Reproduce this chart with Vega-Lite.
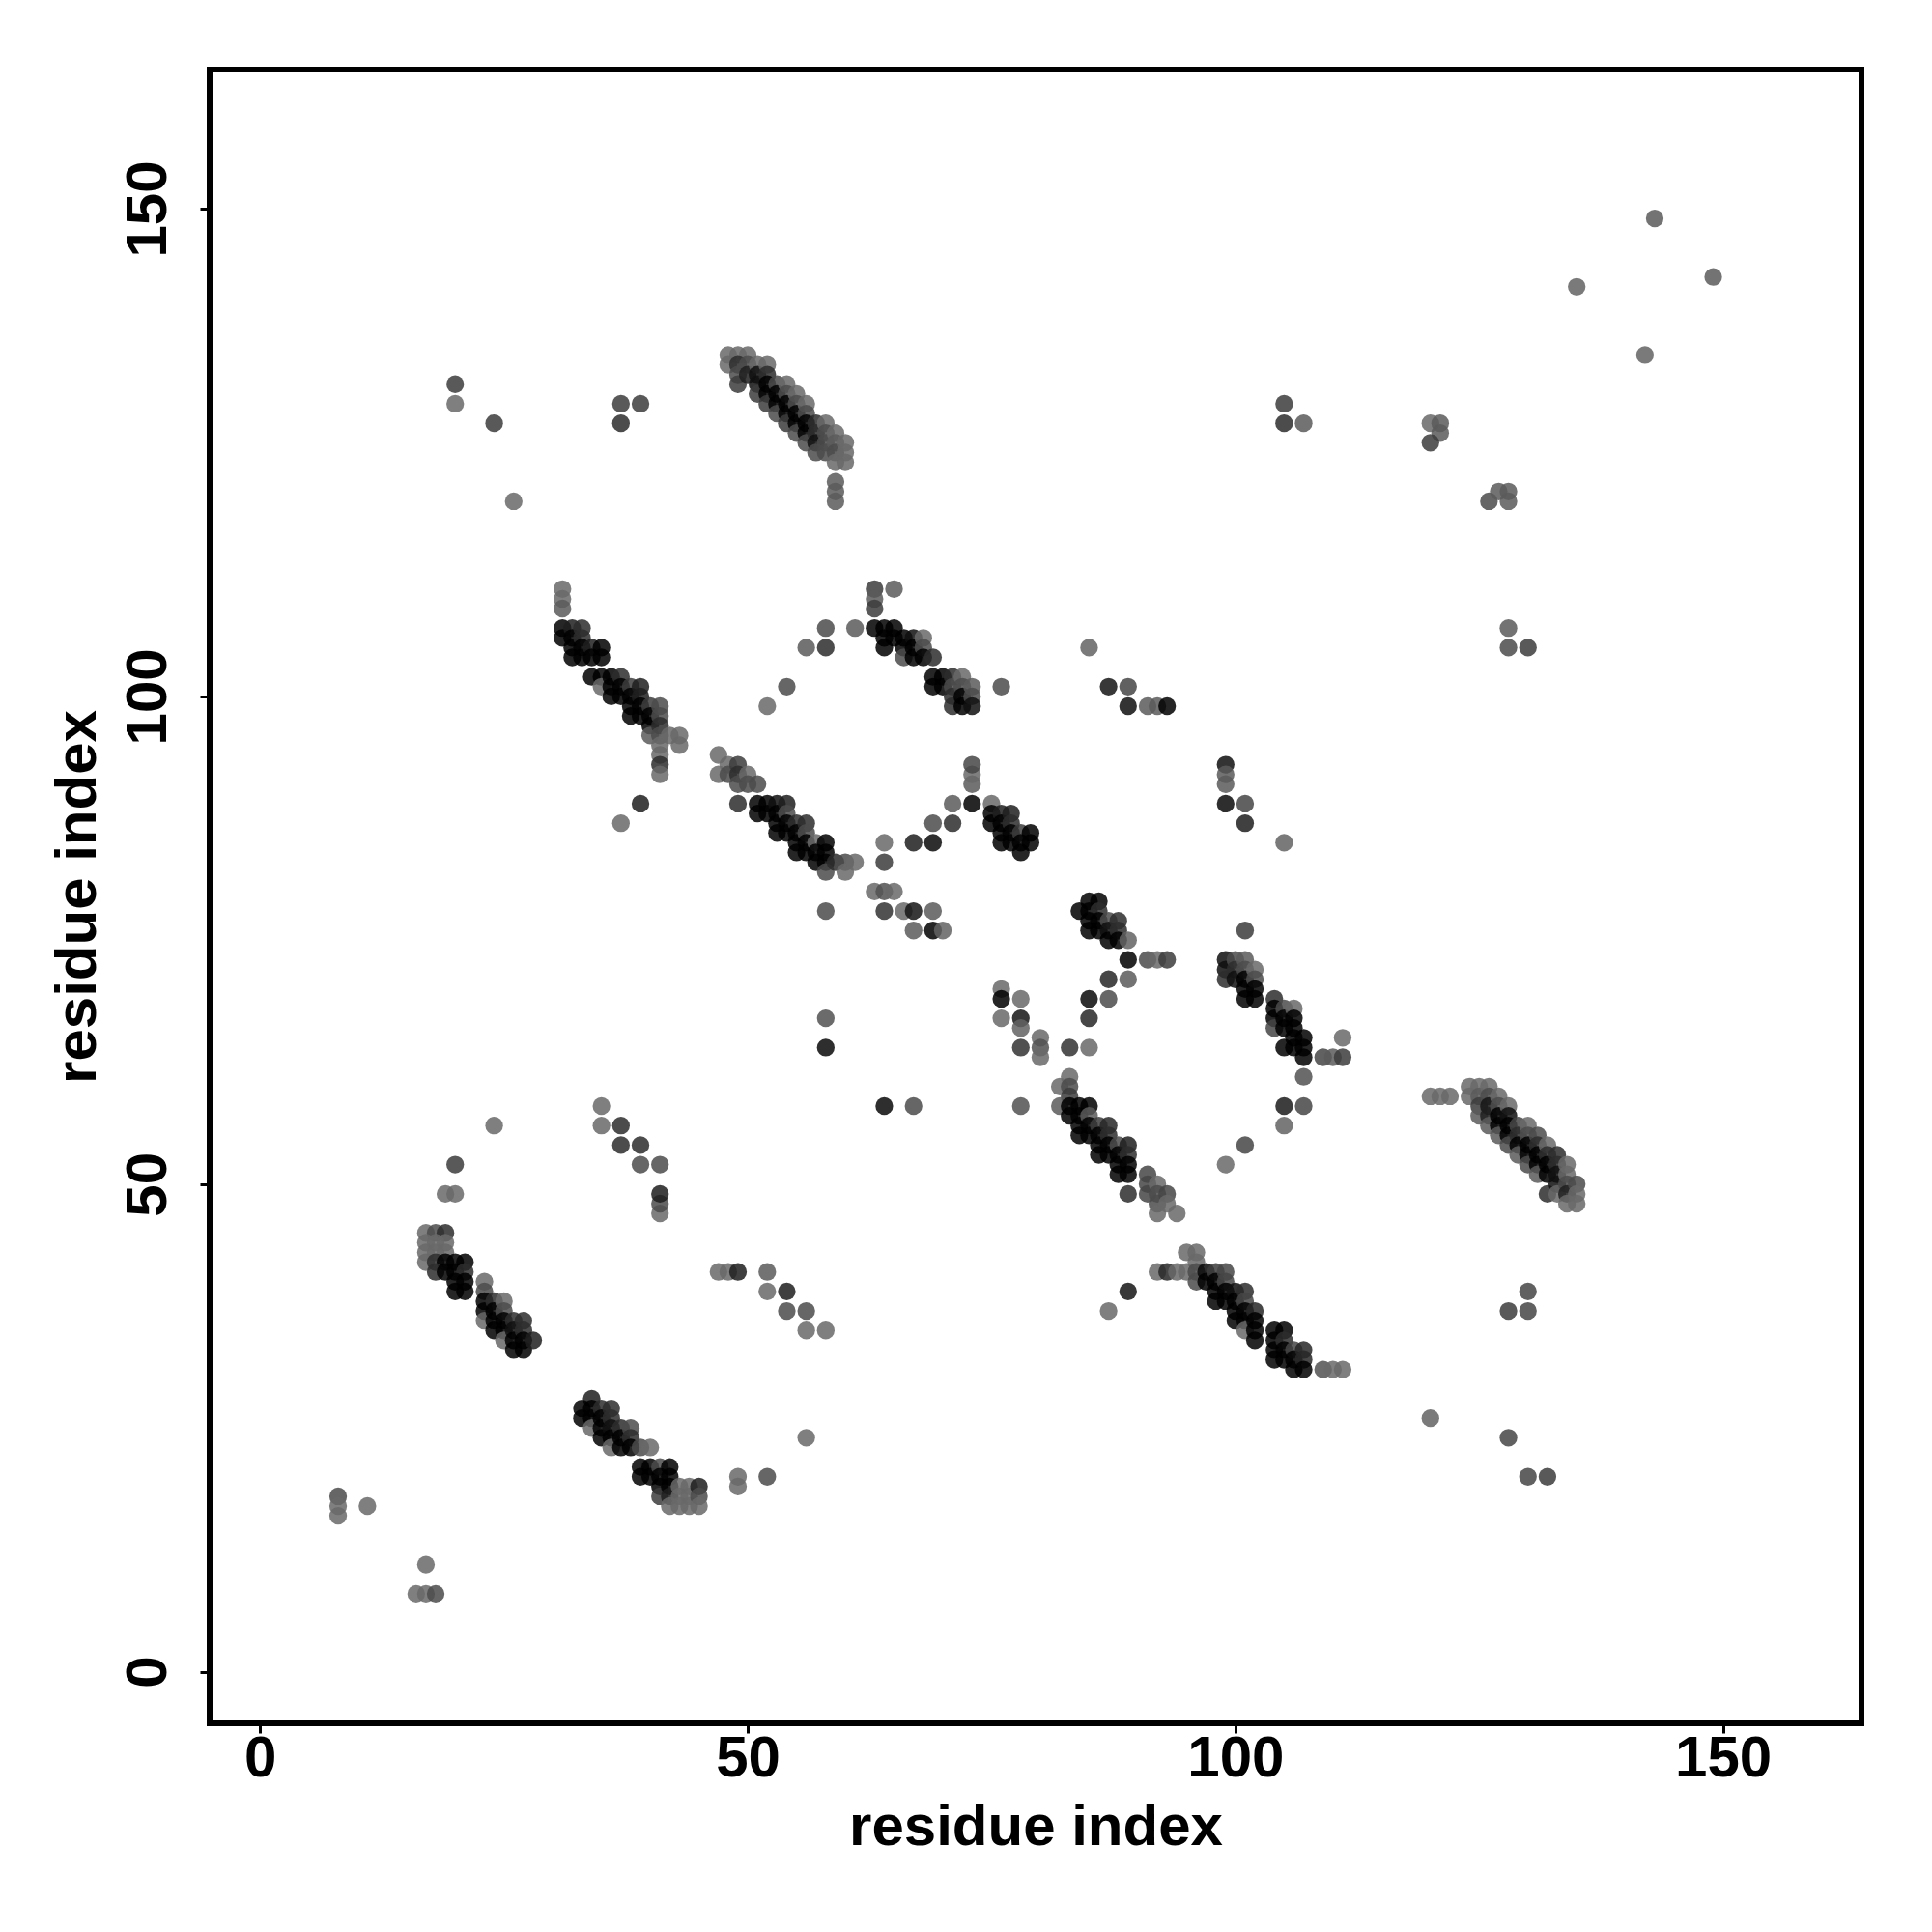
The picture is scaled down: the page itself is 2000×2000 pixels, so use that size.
{"$schema":"https://vega.github.io/schema/vega-lite/v6.json","width":1710,"height":1712,"autosize":{"type":"none"},"padding":{"left":217,"top":72,"right":73,"bottom":216},"background":"white","view":{"stroke":"black","strokeWidth":6,"fill":"white"},"data":{"values":[
{"x":17,"y":11,"s":0.5},{"x":16,"y":8,"s":0.5},{"x":17,"y":8,"s":0.5},{"x":18,"y":8,"s":0.6},{"x":8,"y":18,"s":0.6},{"x":8,"y":17,"s":0.5},{"x":8,"y":16,"s":0.5},{"x":11,"y":17,"s":0.5},
{"x":17,"y":45,"s":0.5},{"x":18,"y":45,"s":0.6},{"x":19,"y":45,"s":0.7},{"x":17,"y":44,"s":0.5},{"x":18,"y":44,"s":0.5},{"x":19,"y":44,"s":0.5},{"x":17,"y":43,"s":0.5},{"x":18,"y":43,"s":0.5},{"x":19,"y":43,"s":0.5},{"x":17,"y":42,"s":0.5},{"x":18,"y":42,"s":0.7},{"x":19,"y":42,"s":0.9},{"x":20,"y":42,"s":0.85},{"x":21,"y":42,"s":0.9},{"x":18,"y":41,"s":0.7},{"x":19,"y":41,"s":0.9},{"x":20,"y":41,"s":0.9},{"x":21,"y":41,"s":0.7},{"x":20,"y":40,"s":0.95},{"x":21,"y":40,"s":0.9},{"x":20,"y":39,"s":0.95},{"x":21,"y":39,"s":0.95},
{"x":23,"y":40,"s":0.5},{"x":23,"y":39,"s":0.6},{"x":23,"y":38,"s":0.9},{"x":23,"y":37,"s":0.9},{"x":23,"y":36,"s":0.5},{"x":24,"y":38,"s":0.7},{"x":24,"y":37,"s":0.9},{"x":24,"y":36,"s":0.9},{"x":24,"y":35,"s":0.9},{"x":25,"y":38,"s":0.5},{"x":25,"y":37,"s":0.6},{"x":25,"y":36,"s":0.9},{"x":25,"y":35,"s":0.9},{"x":25,"y":34,"s":0.5},{"x":26,"y":36,"s":0.7},{"x":26,"y":35,"s":0.8},{"x":26,"y":34,"s":0.9},{"x":26,"y":33,"s":0.95},{"x":27,"y":36,"s":0.7},{"x":27,"y":35,"s":0.7},{"x":27,"y":34,"s":0.9},{"x":27,"y":33,"s":0.95},{"x":28,"y":34,"s":0.75},
{"x":34,"y":28,"s":0.75},{"x":33,"y":27,"s":0.95},{"x":33,"y":26,"s":0.95},{"x":34,"y":27,"s":0.9},{"x":34,"y":26,"s":0.9},{"x":34,"y":25,"s":0.5},{"x":35,"y":27,"s":0.7},{"x":35,"y":26,"s":0.9},{"x":35,"y":25,"s":0.9},{"x":35,"y":24,"s":0.9},{"x":36,"y":27,"s":0.7},{"x":36,"y":26,"s":0.7},{"x":36,"y":25,"s":0.8},{"x":36,"y":24,"s":0.9},{"x":36,"y":23,"s":0.5},{"x":37,"y":25,"s":0.7},{"x":37,"y":24,"s":0.9},{"x":37,"y":23,"s":0.9},{"x":38,"y":25,"s":0.6},{"x":38,"y":24,"s":0.7},{"x":38,"y":23,"s":0.9},{"x":39,"y":23,"s":0.6},{"x":40,"y":23,"s":0.5},
{"x":39,"y":21,"s":0.95},{"x":39,"y":20,"s":0.95},{"x":40,"y":21,"s":0.95},{"x":40,"y":20,"s":0.95},{"x":41,"y":21,"s":0.6},{"x":41,"y":20,"s":0.9},{"x":41,"y":19,"s":0.9},{"x":41,"y":18,"s":0.65},{"x":42,"y":21,"s":0.9},{"x":42,"y":20,"s":0.9},{"x":42,"y":19,"s":0.9},{"x":42,"y":18,"s":0.75},{"x":42,"y":17,"s":0.5},{"x":43,"y":19,"s":0.5},{"x":43,"y":18,"s":0.5},{"x":43,"y":17,"s":0.5},{"x":44,"y":19,"s":0.5},{"x":44,"y":18,"s":0.5},{"x":44,"y":17,"s":0.5},{"x":45,"y":19,"s":0.75},{"x":45,"y":18,"s":0.6},{"x":45,"y":17,"s":0.5},
{"x":49,"y":20,"s":0.5},{"x":49,"y":19,"s":0.5},{"x":52,"y":20,"s":0.6},{"x":47,"y":41,"s":0.5},{"x":48,"y":41,"s":0.5},{"x":49,"y":41,"s":0.75},{"x":52,"y":41,"s":0.55},{"x":52,"y":39,"s":0.5},{"x":54,"y":39,"s":0.75},{"x":54,"y":37,"s":0.6},{"x":56,"y":37,"s":0.6},{"x":56,"y":35,"s":0.5},{"x":58,"y":35,"s":0.5},{"x":56,"y":24,"s":0.5},
{"x":41,"y":47,"s":0.5},{"x":41,"y":48,"s":0.6},{"x":41,"y":49,"s":0.75},{"x":41,"y":52,"s":0.6},{"x":39,"y":52,"s":0.6},{"x":39,"y":54,"s":0.7},{"x":37,"y":54,"s":0.7},{"x":37,"y":56,"s":0.7},{"x":35,"y":56,"s":0.5},{"x":35,"y":58,"s":0.5},{"x":24,"y":56,"s":0.5},{"x":20,"y":52,"s":0.65},{"x":20,"y":49,"s":0.5},{"x":19,"y":49,"s":0.5},
{"x":20,"y":132,"s":0.65},{"x":20,"y":130,"s":0.5},{"x":24,"y":128,"s":0.65},{"x":26,"y":120,"s":0.5},{"x":37,"y":130,"s":0.65},{"x":39,"y":130,"s":0.65},{"x":37,"y":128,"s":0.7},
{"x":48,"y":135,"s":0.5},{"x":48,"y":134,"s":0.5},{"x":49,"y":135,"s":0.5},{"x":50,"y":135,"s":0.5},{"x":49,"y":134,"s":0.7},{"x":49,"y":133,"s":0.6},{"x":49,"y":132,"s":0.65},{"x":50,"y":134,"s":0.6},{"x":50,"y":133,"s":0.75},{"x":51,"y":134,"s":0.5},{"x":51,"y":133,"s":0.8},{"x":51,"y":132,"s":0.8},{"x":51,"y":131,"s":0.65},{"x":52,"y":134,"s":0.5},{"x":52,"y":133,"s":0.7},{"x":52,"y":132,"s":0.85},{"x":52,"y":131,"s":0.85},{"x":52,"y":130,"s":0.65},{"x":53,"y":132,"s":0.6},{"x":53,"y":131,"s":0.85},{"x":53,"y":130,"s":0.85},{"x":53,"y":129,"s":0.6},{"x":54,"y":132,"s":0.5},{"x":54,"y":131,"s":0.6},{"x":54,"y":130,"s":0.85},{"x":54,"y":129,"s":0.85},{"x":54,"y":128,"s":0.65},{"x":55,"y":131,"s":0.5},{"x":55,"y":130,"s":0.6},{"x":55,"y":129,"s":0.85},{"x":55,"y":128,"s":0.85},{"x":55,"y":127,"s":0.6},{"x":56,"y":130,"s":0.5},{"x":56,"y":129,"s":0.6},{"x":56,"y":128,"s":0.85},{"x":56,"y":127,"s":0.85},{"x":56,"y":126,"s":0.6},{"x":57,"y":128,"s":0.7},{"x":57,"y":127,"s":0.7},{"x":57,"y":126,"s":0.8},{"x":57,"y":125,"s":0.6},{"x":58,"y":128,"s":0.5},{"x":58,"y":127,"s":0.6},{"x":58,"y":126,"s":0.6},{"x":58,"y":125,"s":0.6},{"x":59,"y":127,"s":0.5},{"x":59,"y":126,"s":0.55},{"x":59,"y":125,"s":0.6},{"x":59,"y":124,"s":0.5},{"x":60,"y":126,"s":0.5},{"x":60,"y":125,"s":0.5},{"x":60,"y":124,"s":0.5},{"x":59,"y":122,"s":0.55},{"x":59,"y":121,"s":0.55},{"x":59,"y":120,"s":0.55},
{"x":31,"y":111,"s":0.5},{"x":31,"y":110,"s":0.5},{"x":31,"y":109,"s":0.55},{"x":31,"y":107,"s":0.9},{"x":31,"y":106,"s":0.9},{"x":32,"y":107,"s":0.75},{"x":32,"y":106,"s":0.9},{"x":32,"y":105,"s":0.9},{"x":32,"y":104,"s":0.95},{"x":33,"y":107,"s":0.7},{"x":33,"y":106,"s":0.7},{"x":33,"y":105,"s":0.9},{"x":33,"y":104,"s":0.95},{"x":34,"y":105,"s":0.75},{"x":34,"y":104,"s":0.95},{"x":35,"y":105,"s":0.85},{"x":35,"y":104,"s":0.9},
{"x":34,"y":102,"s":0.85},{"x":35,"y":102,"s":0.9},{"x":35,"y":101,"s":0.5},{"x":36,"y":102,"s":0.95},{"x":36,"y":101,"s":0.9},{"x":36,"y":100,"s":0.9},{"x":37,"y":102,"s":0.7},{"x":37,"y":101,"s":0.9},{"x":37,"y":100,"s":0.9},{"x":38,"y":101,"s":0.65},{"x":38,"y":100,"s":0.9},{"x":38,"y":99,"s":0.9},{"x":38,"y":98,"s":0.9},{"x":39,"y":101,"s":0.75},{"x":39,"y":100,"s":0.75},{"x":39,"y":99,"s":0.9},{"x":39,"y":98,"s":0.9},{"x":40,"y":99,"s":0.65},{"x":40,"y":98,"s":0.85},{"x":40,"y":97,"s":0.85},{"x":40,"y":96,"s":0.55},{"x":41,"y":99,"s":0.6},{"x":41,"y":98,"s":0.6},{"x":41,"y":97,"s":0.7},{"x":41,"y":96,"s":0.6},{"x":41,"y":95,"s":0.5},{"x":41,"y":94,"s":0.5},{"x":41,"y":93,"s":0.7},{"x":41,"y":92,"s":0.5},{"x":42,"y":96,"s":0.5},{"x":43,"y":96,"s":0.5},{"x":43,"y":95,"s":0.5},{"x":39,"y":89,"s":0.75},{"x":37,"y":87,"s":0.5},
{"x":58,"y":107,"s":0.6},{"x":58,"y":105,"s":0.7},{"x":56,"y":105,"s":0.55},{"x":61,"y":107,"s":0.55},{"x":54,"y":101,"s":0.6},{"x":52,"y":99,"s":0.5},{"x":63,"y":111,"s":0.65},{"x":63,"y":110,"s":0.55},{"x":63,"y":109,"s":0.65},{"x":65,"y":111,"s":0.55},
{"x":63,"y":107,"s":0.95},{"x":64,"y":107,"s":0.95},{"x":64,"y":106,"s":0.95},{"x":64,"y":105,"s":0.95},{"x":65,"y":107,"s":0.95},{"x":65,"y":106,"s":0.95},{"x":66,"y":106,"s":0.9},{"x":66,"y":105,"s":0.9},{"x":66,"y":104,"s":0.6},{"x":67,"y":106,"s":0.8},{"x":67,"y":105,"s":0.9},{"x":67,"y":104,"s":0.95},{"x":68,"y":106,"s":0.5},{"x":68,"y":105,"s":0.6},{"x":68,"y":104,"s":0.95},{"x":69,"y":104,"s":0.7},
{"x":69,"y":102,"s":0.95},{"x":69,"y":101,"s":0.9},{"x":70,"y":102,"s":0.95},{"x":70,"y":101,"s":0.85},{"x":71,"y":102,"s":0.7},{"x":71,"y":101,"s":0.6},{"x":71,"y":100,"s":0.7},{"x":71,"y":99,"s":0.7},{"x":72,"y":102,"s":0.5},{"x":72,"y":101,"s":0.6},{"x":72,"y":100,"s":0.85},{"x":72,"y":99,"s":0.85},{"x":73,"y":101,"s":0.55},{"x":73,"y":100,"s":0.6},{"x":73,"y":99,"s":0.8},{"x":76,"y":101,"s":0.6},
{"x":47,"y":94,"s":0.5},{"x":47,"y":92,"s":0.5},{"x":48,"y":93,"s":0.5},{"x":48,"y":92,"s":0.6},{"x":49,"y":93,"s":0.65},{"x":49,"y":92,"s":0.7},{"x":49,"y":91,"s":0.6},{"x":50,"y":92,"s":0.5},{"x":50,"y":91,"s":0.6},{"x":51,"y":91,"s":0.6},{"x":49,"y":89,"s":0.7},
{"x":51,"y":89,"s":0.9},{"x":51,"y":88,"s":0.85},{"x":52,"y":89,"s":0.95},{"x":52,"y":88,"s":0.9},{"x":53,"y":89,"s":0.8},{"x":53,"y":88,"s":0.95},{"x":53,"y":87,"s":0.95},{"x":53,"y":86,"s":0.95},{"x":54,"y":89,"s":0.75},{"x":54,"y":88,"s":0.6},{"x":54,"y":87,"s":0.95},{"x":54,"y":86,"s":0.95},{"x":55,"y":87,"s":0.7},{"x":55,"y":86,"s":0.9},{"x":55,"y":85,"s":0.95},{"x":55,"y":84,"s":0.95},{"x":56,"y":87,"s":0.7},{"x":56,"y":86,"s":0.6},{"x":56,"y":85,"s":0.95},{"x":56,"y":84,"s":0.95},{"x":57,"y":85,"s":0.5},{"x":57,"y":84,"s":0.95},{"x":57,"y":83,"s":0.9},{"x":58,"y":85,"s":0.88},{"x":58,"y":84,"s":0.9},{"x":58,"y":83,"s":0.9},{"x":58,"y":82,"s":0.6},{"x":59,"y":83,"s":0.7},{"x":60,"y":83,"s":0.6},{"x":60,"y":82,"s":0.5},{"x":61,"y":83,"s":0.5},{"x":58,"y":78,"s":0.6},
{"x":64,"y":85,"s":0.5},{"x":64,"y":83,"s":0.65},{"x":67,"y":85,"s":0.75},{"x":69,"y":85,"s":0.82},{"x":69,"y":87,"s":0.6},{"x":71,"y":87,"s":0.7},{"x":71,"y":89,"s":0.55},{"x":73,"y":89,"s":0.88},{"x":73,"y":91,"s":0.55},{"x":73,"y":92,"s":0.5},{"x":73,"y":93,"s":0.62},
{"x":63,"y":80,"s":0.5},{"x":64,"y":80,"s":0.58},{"x":65,"y":80,"s":0.5},{"x":64,"y":78,"s":0.68},{"x":66,"y":78,"s":0.5},{"x":67,"y":78,"s":0.78},{"x":69,"y":78,"s":0.55},{"x":67,"y":76,"s":0.55},{"x":69,"y":76,"s":0.85},{"x":70,"y":76,"s":0.52},{"x":58,"y":67,"s":0.58},{"x":58,"y":64,"s":0.82},
{"x":75,"y":89,"s":0.5},{"x":75,"y":88,"s":0.9},{"x":75,"y":87,"s":0.9},{"x":76,"y":88,"s":0.75},{"x":76,"y":87,"s":0.95},{"x":76,"y":86,"s":0.95},{"x":76,"y":85,"s":0.95},{"x":77,"y":88,"s":0.75},{"x":77,"y":87,"s":0.7},{"x":77,"y":86,"s":0.95},{"x":77,"y":85,"s":0.95},{"x":78,"y":86,"s":0.65},{"x":78,"y":85,"s":0.9},{"x":78,"y":84,"s":0.92},{"x":79,"y":86,"s":0.95},{"x":79,"y":85,"s":0.9},
{"x":85,"y":79,"s":0.85},{"x":86,"y":79,"s":0.92},{"x":84,"y":78,"s":0.95},{"x":85,"y":78,"s":0.9},{"x":86,"y":78,"s":0.7},{"x":85,"y":77,"s":0.95},{"x":85,"y":76,"s":0.95},{"x":86,"y":77,"s":0.95},{"x":86,"y":76,"s":0.95},{"x":87,"y":77,"s":0.6},{"x":87,"y":76,"s":0.8},{"x":87,"y":75,"s":0.95},{"x":88,"y":77,"s":0.7},{"x":88,"y":76,"s":0.7},{"x":88,"y":75,"s":0.9},{"x":89,"y":75,"s":0.52},{"x":89,"y":73,"s":0.88},{"x":91,"y":73,"s":0.6},{"x":92,"y":73,"s":0.5},{"x":93,"y":73,"s":0.65},
{"x":87,"y":71,"s":0.72},{"x":89,"y":71,"s":0.55},{"x":85,"y":69,"s":0.82},{"x":87,"y":69,"s":0.6},{"x":85,"y":67,"s":0.72},{"x":83,"y":64,"s":0.68},{"x":85,"y":64,"s":0.5},{"x":76,"y":70,"s":0.5},{"x":76,"y":69,"s":0.85},{"x":78,"y":69,"s":0.5},{"x":76,"y":67,"s":0.5},{"x":78,"y":67,"s":0.78},{"x":78,"y":66,"s":0.52},{"x":78,"y":64,"s":0.68},{"x":80,"y":65,"s":0.5},{"x":80,"y":64,"s":0.58},{"x":80,"y":63,"s":0.5},
{"x":83,"y":61,"s":0.5},{"x":82,"y":60,"s":0.5},{"x":83,"y":60,"s":0.6},{"x":83,"y":59,"s":0.65},{"x":82,"y":58,"s":0.55},{"x":83,"y":58,"s":0.95},{"x":83,"y":57,"s":0.9},{"x":84,"y":58,"s":0.9},{"x":84,"y":57,"s":0.95},{"x":84,"y":56,"s":0.95},{"x":84,"y":55,"s":0.95},{"x":85,"y":58,"s":0.9},{"x":85,"y":57,"s":0.55},{"x":85,"y":56,"s":0.95},{"x":85,"y":55,"s":0.95},{"x":86,"y":56,"s":0.65},{"x":86,"y":55,"s":0.95},{"x":86,"y":54,"s":0.95},{"x":86,"y":53,"s":0.95},{"x":87,"y":56,"s":0.72},{"x":87,"y":55,"s":0.7},{"x":87,"y":54,"s":0.95},{"x":87,"y":53,"s":0.95},{"x":88,"y":54,"s":0.6},{"x":88,"y":53,"s":0.95},{"x":88,"y":52,"s":0.95},{"x":88,"y":51,"s":0.9},{"x":89,"y":54,"s":0.75},{"x":89,"y":53,"s":0.7},{"x":89,"y":52,"s":0.95},{"x":89,"y":51,"s":0.9},{"x":89,"y":49,"s":0.7},
{"x":91,"y":51,"s":0.62},{"x":91,"y":50,"s":0.62},{"x":91,"y":49,"s":0.62},{"x":92,"y":50,"s":0.5},{"x":92,"y":49,"s":0.6},{"x":92,"y":48,"s":0.6},{"x":92,"y":47,"s":0.5},{"x":93,"y":49,"s":0.62},{"x":93,"y":48,"s":0.5},{"x":94,"y":47,"s":0.5},{"x":78,"y":58,"s":0.58},{"x":64,"y":58,"s":0.82},{"x":67,"y":58,"s":0.6},
{"x":99,"y":52,"s":0.5},{"x":101,"y":54,"s":0.62},{"x":105,"y":56,"s":0.52},{"x":105,"y":58,"s":0.76},{"x":107,"y":58,"s":0.62},{"x":107,"y":61,"s":0.58},{"x":109,"y":63,"s":0.62},{"x":110,"y":63,"s":0.55},{"x":111,"y":63,"s":0.65},{"x":111,"y":65,"s":0.5},{"x":101,"y":76,"s":0.65},
{"x":99,"y":73,"s":0.8},{"x":99,"y":72,"s":0.8},{"x":99,"y":71,"s":0.7},{"x":100,"y":73,"s":0.6},{"x":100,"y":72,"s":0.7},{"x":100,"y":71,"s":0.8},{"x":101,"y":73,"s":0.55},{"x":101,"y":72,"s":0.6},{"x":101,"y":71,"s":0.9},{"x":101,"y":70,"s":0.9},{"x":101,"y":69,"s":0.95},{"x":102,"y":72,"s":0.5},{"x":102,"y":71,"s":0.6},{"x":102,"y":70,"s":0.9},{"x":102,"y":69,"s":0.95},
{"x":104,"y":69,"s":0.7},{"x":104,"y":68,"s":0.9},{"x":104,"y":67,"s":0.9},{"x":104,"y":66,"s":0.62},{"x":105,"y":68,"s":0.6},{"x":105,"y":67,"s":0.9},{"x":105,"y":66,"s":0.9},{"x":105,"y":64,"s":0.95},{"x":106,"y":68,"s":0.5},{"x":106,"y":67,"s":0.85},{"x":106,"y":66,"s":0.95},{"x":106,"y":65,"s":0.95},{"x":106,"y":64,"s":0.95},{"x":107,"y":65,"s":0.95},{"x":107,"y":64,"s":0.95},{"x":107,"y":63,"s":0.95},
{"x":95,"y":43,"s":0.5},{"x":96,"y":43,"s":0.5},{"x":92,"y":41,"s":0.5},{"x":93,"y":41,"s":0.72},{"x":94,"y":41,"s":0.5},{"x":95,"y":41,"s":0.5},{"x":96,"y":42,"s":0.5},{"x":96,"y":41,"s":0.6},{"x":96,"y":40,"s":0.6},{"x":97,"y":41,"s":0.82},{"x":97,"y":40,"s":0.85},{"x":98,"y":41,"s":0.65},{"x":98,"y":40,"s":0.95},{"x":98,"y":39,"s":0.95},{"x":98,"y":38,"s":0.92},{"x":99,"y":41,"s":0.62},{"x":99,"y":40,"s":0.62},{"x":99,"y":39,"s":0.95},{"x":99,"y":38,"s":0.95},{"x":100,"y":39,"s":0.8},{"x":100,"y":38,"s":0.95},{"x":100,"y":37,"s":0.95},{"x":100,"y":36,"s":0.92},{"x":101,"y":39,"s":0.7},{"x":101,"y":38,"s":0.62},{"x":101,"y":37,"s":0.95},{"x":101,"y":36,"s":0.95},{"x":101,"y":35,"s":0.5},{"x":102,"y":37,"s":0.72},{"x":102,"y":36,"s":0.95},{"x":102,"y":35,"s":0.9},{"x":102,"y":34,"s":0.85},
{"x":104,"y":35,"s":0.85},{"x":104,"y":34,"s":0.95},{"x":104,"y":33,"s":0.95},{"x":104,"y":32,"s":0.95},{"x":105,"y":35,"s":0.88},{"x":105,"y":34,"s":0.7},{"x":105,"y":33,"s":0.95},{"x":105,"y":32,"s":0.95},{"x":106,"y":33,"s":0.62},{"x":106,"y":32,"s":0.95},{"x":106,"y":31,"s":0.92},{"x":107,"y":33,"s":0.72},{"x":107,"y":32,"s":0.72},{"x":107,"y":31,"s":0.9},{"x":109,"y":31,"s":0.58},{"x":110,"y":31,"s":0.5},{"x":111,"y":31,"s":0.5},{"x":87,"y":37,"s":0.5},{"x":89,"y":39,"s":0.78},
{"x":120,"y":26,"s":0.52},{"x":128,"y":24,"s":0.62},{"x":130,"y":39,"s":0.62},{"x":128,"y":37,"s":0.65},{"x":130,"y":37,"s":0.62},{"x":130,"y":20,"s":0.62},{"x":132,"y":20,"s":0.65},
{"x":120,"y":59,"s":0.5},{"x":121,"y":59,"s":0.5},{"x":122,"y":59,"s":0.5},{"x":124,"y":60,"s":0.5},{"x":124,"y":59,"s":0.5},{"x":125,"y":60,"s":0.5},{"x":125,"y":59,"s":0.55},{"x":125,"y":58,"s":0.65},{"x":125,"y":57,"s":0.55},{"x":126,"y":60,"s":0.5},{"x":126,"y":59,"s":0.6},{"x":126,"y":58,"s":0.78},{"x":126,"y":57,"s":0.75},{"x":126,"y":56,"s":0.55},{"x":127,"y":59,"s":0.5},{"x":127,"y":58,"s":0.6},{"x":127,"y":57,"s":0.85},{"x":127,"y":56,"s":0.85},{"x":127,"y":55,"s":0.55},{"x":128,"y":58,"s":0.5},{"x":128,"y":57,"s":0.8},{"x":128,"y":56,"s":0.85},{"x":128,"y":55,"s":0.85},{"x":128,"y":54,"s":0.6},{"x":129,"y":56,"s":0.62},{"x":129,"y":55,"s":0.7},{"x":129,"y":54,"s":0.85},{"x":129,"y":53,"s":0.55},{"x":130,"y":56,"s":0.5},{"x":130,"y":55,"s":0.6},{"x":130,"y":54,"s":0.85},{"x":130,"y":53,"s":0.85},{"x":130,"y":52,"s":0.6},{"x":131,"y":55,"s":0.6},{"x":131,"y":54,"s":0.7},{"x":131,"y":53,"s":0.85},{"x":131,"y":52,"s":0.85},{"x":131,"y":51,"s":0.55},{"x":132,"y":54,"s":0.5},{"x":132,"y":53,"s":0.7},{"x":132,"y":52,"s":0.85},{"x":132,"y":51,"s":0.85},{"x":132,"y":49,"s":0.7},{"x":133,"y":53,"s":0.7},{"x":133,"y":52,"s":0.7},{"x":133,"y":51,"s":0.8},{"x":133,"y":50,"s":0.8},{"x":133,"y":49,"s":0.5},{"x":134,"y":52,"s":0.5},{"x":134,"y":51,"s":0.5},{"x":134,"y":50,"s":0.6},{"x":134,"y":49,"s":0.75},{"x":134,"y":48,"s":0.5},{"x":135,"y":50,"s":0.6},{"x":135,"y":49,"s":0.5},{"x":135,"y":48,"s":0.5},
{"x":143,"y":149,"s":0.55},{"x":135,"y":142,"s":0.52},{"x":149,"y":143,"s":0.55},{"x":142,"y":135,"s":0.52},{"x":105,"y":130,"s":0.65},{"x":105,"y":128,"s":0.7},{"x":107,"y":128,"s":0.55},{"x":120,"y":128,"s":0.5},{"x":121,"y":128,"s":0.55},{"x":121,"y":127,"s":0.55},{"x":120,"y":126,"s":0.65},{"x":126,"y":120,"s":0.6},{"x":127,"y":121,"s":0.55},{"x":128,"y":121,"s":0.55},{"x":128,"y":120,"s":0.55},{"x":128,"y":107,"s":0.55},{"x":128,"y":105,"s":0.6},{"x":130,"y":105,"s":0.65},
{"x":85,"y":105,"s":0.52},{"x":87,"y":101,"s":0.78},{"x":89,"y":101,"s":0.62},{"x":89,"y":99,"s":0.8},{"x":91,"y":99,"s":0.55},{"x":92,"y":99,"s":0.55},{"x":93,"y":99,"s":0.85},{"x":99,"y":93,"s":0.8},{"x":99,"y":92,"s":0.55},{"x":99,"y":91,"s":0.55},{"x":99,"y":89,"s":0.82},{"x":101,"y":89,"s":0.62},{"x":101,"y":87,"s":0.75},{"x":105,"y":85,"s":0.52}
]},"mark":{"type":"circle","size":335,"opacity":0.85},"encoding":{"order":[{"field":"x","type":"quantitative"},{"field":"y","type":"quantitative"}],"x":{"field":"x","type":"quantitative","title":"residue index","scale":{"domain":[-5.18,164.2],"nice":false,"zero":false},"axis":{"values":[0,50,100,150],"grid":false,"domain":false,"tickColor":"black","tickWidth":3,"tickSize":10,"labelFont":"Liberation Sans","labelFontWeight":"bold","labelFontSize":60,"labelColor":"black","labelPadding":-3,"titleFont":"Liberation Sans","titleFontWeight":"bold","titleFontSize":60,"titleColor":"black","titlePadding":12}},"y":{"field":"y","type":"quantitative","title":"residue index","scale":{"domain":[-5.28,164.26],"nice":false,"zero":false},"axis":{"values":[0,50,100,150],"grid":false,"domain":false,"tickColor":"black","tickWidth":3,"tickSize":10,"labelFont":"Liberation Sans","labelFontWeight":"bold","labelFontSize":60,"labelColor":"black","labelAngle":270,"labelAlign":"center","labelBaseline":"bottom","labelPadding":23,"titleFont":"Liberation Sans","titleFontWeight":"bold","titleFontSize":60,"titleColor":"black","titlePadding":12}},"color":{"field":"s","type":"quantitative","scale":{"domain":[0,0.85],"range":["#ffffff","#000000"],"interpolate":"rgb","clamp":true},"legend":null}}}
